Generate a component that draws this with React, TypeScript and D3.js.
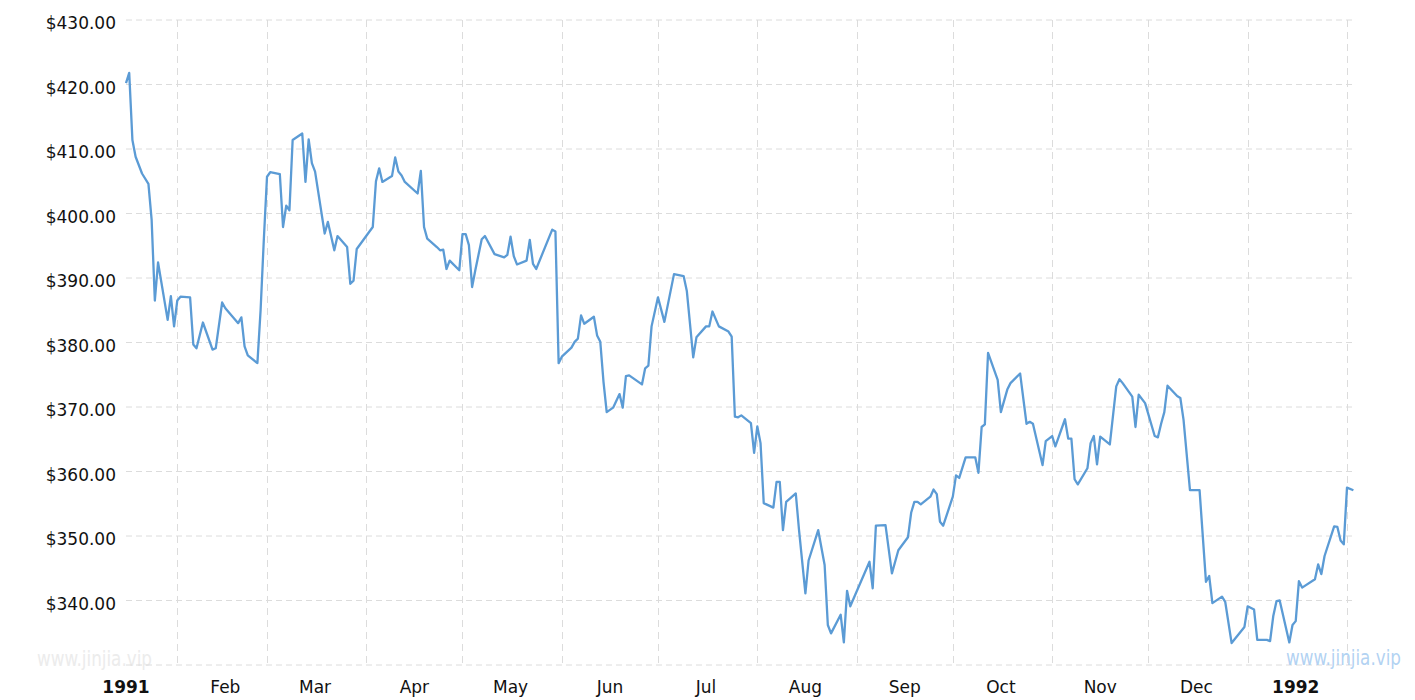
import React, { useEffect, useRef } from 'react';
import * as d3 from 'd3';

// day offsets counted from 1 Jan 1991
const days = [
    15, 16, 17, 18, 20, 22, 23, 24, 25, 28,
    29, 30, 31, 32, 35, 36, 37, 39, 42, 43,
    45, 46, 50, 51, 52, 53, 56, 57, 58, 59,
    60, 63, 64, 65, 66, 67, 70, 71, 72, 73,
    74, 77, 78, 80, 81, 84, 85, 86, 87, 92,
    93, 94, 95, 98, 99, 100, 101, 102, 106, 107,
    108, 109, 112, 113, 114, 115, 116, 119, 120, 121,
    122, 123, 124, 126, 127, 130, 133, 134, 135, 136,
    137, 140, 141, 142, 143, 148, 149, 150, 151, 154,
    155, 156, 157, 158, 161, 162, 163, 164, 165, 167,
    169, 170, 171, 172, 176, 177, 178, 179, 181, 183,
    186, 189, 190, 192, 193, 196, 197, 198, 200, 203,
    204, 205, 206, 207, 210, 211, 212, 213, 214, 217,
    218, 219, 220, 221, 224, 225, 227, 228, 231, 233,
    234, 235, 238, 239, 240, 241, 247, 248, 249, 252,
    254, 256, 259, 260, 261, 262, 263, 266, 267, 268,
    269, 270, 273, 274, 275, 276, 277, 280, 281, 282,
    283, 284, 287, 288, 290, 291, 294, 296, 297, 298,
    301, 302, 304, 305, 308, 309, 310, 311, 312, 315,
    316, 317, 318, 319, 322, 324, 325, 326, 329, 330,
    331, 333, 336, 337, 338, 339, 340, 343, 344, 345,
    347, 350, 352, 353, 354, 357, 358, 360, 364, 365,
    367, 368, 371, 372, 373, 374, 375, 378, 379, 380,
    381, 382, 386, 387, 388, 389, 392, 393, 394, 395,
    396, 398
];

const prices = [
    420.2, 421.8, 411.4, 408.8, 406.2, 404.6, 399.0, 386.5, 392.4, 383.5,
    387.2, 382.5, 386.5, 387.1, 387.0, 379.7, 379.1, 383.1, 378.9, 379.1,
    386.2, 385.3, 383.0, 383.9, 379.4, 378.0, 376.8, 385.0, 395.9, 405.7,
    406.4, 406.1, 397.9, 401.2, 400.5, 411.4, 412.4, 404.9, 411.5, 407.8,
    406.5, 396.9, 398.7, 394.3, 396.5, 394.8, 389.1, 389.6, 394.5, 397.9,
    405.0, 407.0, 404.9, 405.8, 408.7, 406.5, 405.9, 404.9, 403.1, 406.6,
    397.9, 396.1, 394.8, 394.3, 394.4, 391.4, 392.7, 391.2, 396.8, 396.8,
    395.1, 388.6, 391.2, 396.0, 396.5, 393.7, 393.2, 393.6, 396.4, 393.4,
    392.1, 392.7, 395.9, 392.2, 391.4, 397.5, 397.2, 376.8, 377.8, 379.2,
    380.1, 380.6, 384.2, 382.9, 384.0, 381.1, 380.1, 373.9, 369.2, 369.9,
    372.0, 369.9, 374.8, 374.9, 373.5, 376.0, 376.4, 382.5, 387.0, 383.2,
    390.6, 390.3, 388.0, 377.7, 380.8, 382.5, 382.5, 384.8, 382.5, 381.7,
    380.9, 368.5, 368.4, 368.7, 367.5, 362.9, 367.0, 364.4, 355.1, 354.4,
    358.4, 358.4, 350.9, 355.3, 356.6, 351.0, 341.1, 346.2, 350.9, 345.5,
    336.2, 334.9, 337.8, 333.5, 341.5, 339.1, 346.0, 341.9, 351.6, 351.7,
    344.2, 347.8, 349.8, 353.6, 355.3, 355.3, 354.9, 356.1, 357.2, 356.5,
    352.2, 351.6, 356.1, 359.4, 359.0, 360.6, 362.2, 362.2, 359.8, 366.9,
    367.3, 378.4, 374.2, 369.2, 372.7, 373.7, 375.2, 367.4, 367.7, 367.4,
    361.0, 364.7, 365.5, 363.9, 368.1, 365.1, 365.1, 358.8, 358.0, 360.5,
    364.4, 365.5, 361.1, 365.4, 364.2, 373.2, 374.3, 373.7, 371.6, 366.9,
    371.9, 370.6, 365.5, 365.3, 367.4, 369.2, 373.3, 371.7, 371.4, 368.0,
    357.1, 357.1, 342.9, 343.8, 339.6, 340.6, 339.8, 333.4, 335.9, 339.1,
    338.6, 333.9, 333.9, 333.7, 337.6, 339.9, 340.0, 333.5, 336.2, 336.8,
    343.0, 342.0, 343.3, 345.6, 344.1, 346.9, 351.5, 351.4, 349.3, 348.7,
    357.5, 357.1
];

const yTickValues = [330, 340, 350, 360, 370, 380, 390, 400, 410, 420, 430];
const monthLabels = ['1991', 'Feb', 'Mar', 'Apr', 'May', 'Jun', 'Jul', 'Aug', 'Sep', 'Oct', 'Nov', 'Dec', '1992'];

const dayToDate = (d: number) => new Date(Date.UTC(1991, 0, 1) + d * 864e5);

export default function App() {

    const svgRef = useRef<SVGSVGElement>(null);

    const width = 1415;
    const height = 700;

    const margin = {
        top: 20,
        right: 60,
        bottom: 35,
        left: 126
    };

    useEffect(() => {
        document.body.style.margin = '0';

        const svg = d3.select(svgRef.current)
            .attr('width', width)
            .attr('height', height);

        svg.selectAll('*').remove();

        const xScale = d3.scaleUtc()
            .domain([dayToDate(15), dayToDate(398.5)])
            .range([margin.left, width - margin.right]);

        const yScale = d3.scaleLinear()
            .domain([330, 430])
            .range([height - margin.bottom, margin.top]);

        const font = '"DejaVu Sans", Verdana, sans-serif';
        const markFont = '"Liberation Sans Narrow", "DejaVu Sans Condensed", sans-serif';

        // watermark, left
        svg.append('text')
            .attr('x', 37)
            .attr('y', 666)
            .attr('font-family', markFont)
            .attr('font-size', 22)
            .attr('textLength', 115)
            .attr('lengthAdjust', 'spacingAndGlyphs')
            .attr('fill', '#ececec')
            .text('www.jinjia.vip');

        // horizontal grid
        svg.append('g')
            .selectAll('line')
            .data(yTickValues)
            .enter()
            .append('line')
            .attr('x1', margin.left)
            .attr('x2', width - margin.right)
            .attr('y1', d => yScale(d))
            .attr('y2', d => yScale(d))
            .attr('stroke', '#dcdcdc')
            .attr('stroke-width', 1)
            .attr('stroke-dasharray', '6,4');

        // vertical grid at month starts
        const monthStarts = d3.utcMonth.range(new Date(Date.UTC(1991, 1, 1)), new Date(Date.UTC(1992, 1, 2)));
        svg.append('g')
            .selectAll('line')
            .data(monthStarts)
            .enter()
            .append('line')
            .attr('x1', d => Math.round(xScale(d)) + 0.5)
            .attr('x2', d => Math.round(xScale(d)) + 0.5)
            .attr('y1', yScale(430))
            .attr('y2', yScale(330))
            .attr('stroke', '#dcdcdc')
            .attr('stroke-width', 1)
            .attr('stroke-dasharray', '7,5');

        // y labels
        svg.append('g')
            .selectAll('text')
            .data(yTickValues.filter(v => v > 330))
            .enter()
            .append('text')
            .attr('x', 116)
            .attr('y', d => yScale(d) + 9.4)
            .attr('text-anchor', 'end')
            .attr('font-family', font)
            .attr('font-size', 17)
            .attr('fill', '#111')
            .text(d => '$' + d.toFixed(2));

        // x labels in the middle of each month
        const months = d3.utcMonth.range(new Date(Date.UTC(1991, 0, 1)), new Date(Date.UTC(1992, 0, 2)));
        svg.append('g')
            .selectAll('text')
            .data(months)
            .enter()
            .append('text')
            .attr('x', d => xScale(d3.utcDay.offset(d, 15)))
            .attr('y', 693)
            .attr('text-anchor', 'middle')
            .attr('font-family', font)
            .attr('font-size', 17)
            .attr('font-weight', d => d.getUTCMonth() === 0 ? 'bold' : 'normal')
            .attr('fill', '#111')
            .text((d, i) => monthLabels[i]);

        const line = d3.line<number>()
            .x((d, i) => xScale(dayToDate(days[i])))
            .y(d => yScale(d));

        svg.append('path')
            .datum(prices)
            .attr('d', line)
            .attr('fill', 'none')
            .attr('stroke', '#5b9bd5')
            .attr('stroke-width', 2.3)
            .attr('stroke-linejoin', 'round');

        // watermark, right
        svg.append('text')
            .attr('x', 1286)
            .attr('y', 665)
            .attr('font-family', markFont)
            .attr('font-size', 22)
            .attr('textLength', 115)
            .attr('lengthAdjust', 'spacingAndGlyphs')
            .attr('fill', '#a9cdf1')
            .attr('fill-opacity', 0.9)
            .text('www.jinjia.vip');

    });

    return (
        <svg ref={svgRef} style={{ display: 'block' }}></svg>
    )
}
